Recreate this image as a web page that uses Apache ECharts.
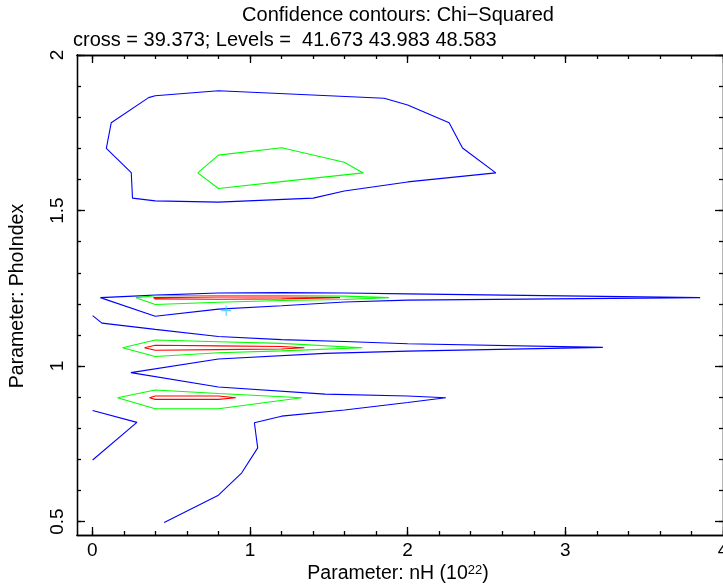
<!DOCTYPE html>
<html><head><meta charset="utf-8">
<script src="https://cdn.jsdelivr.net/npm/echarts@6/dist/echarts.min.js"></script>
<style>html,body{margin:0;padding:0;background:#fff}#c{width:723px;height:588px}</style>
</head><body><div id="c"></div>
<script>
const titleText = 'Confidence contours: Chi\u2212Squared';
const subtitleText = 'cross = 39.373; Levels =  41.673 43.983 48.583';
const xTitleMain = 'Parameter: nH (10';
const xTitleSup = '22';
const yTitle = 'Parameter: PhoIndex';
const xMajorTicks = [0, 1, 2, 3, 4];
const xMinorTicks = [0, 0.2, 0.4, 0.6, 0.8, 1, 1.2, 1.4, 1.6, 1.8, 2, 2.2, 2.4, 2.6, 2.8, 3, 3.2, 3.4, 3.6, 3.8, 4];
const yMajorTicks = [0.5, 1, 1.5, 2];
const yMinorTicks = [0.5, 0.6, 0.7, 0.8, 0.9, 1, 1.1, 1.2, 1.3, 1.4, 1.5, 1.6, 1.7, 1.8, 1.9, 2];
const bestFit = [[0.849, 1.178]];

// level 3 (48.583) - blue
const blueTop = [[0.357,1.863],[0.399,1.869],[0.800,1.885],[1.851,1.861],[2.000,1.839],[2.263,1.782],[2.348,1.701],[2.559,1.621],[2.000,1.592],[1.598,1.563],[1.401,1.540],[0.800,1.527],[0.399,1.531],[0.255,1.540],[0.247,1.622],[0.089,1.700],[0.120,1.782],[0.357,1.863]];
const blueBand1 = [[0.051,1.220],[0.399,1.228],[0.800,1.235],[1.200,1.236],[1.600,1.235],[2.000,1.232],[3.855,1.220],[2.000,1.212],[1.600,1.206],[1.201,1.194],[0.800,1.183],[0.399,1.160],[0.051,1.220]];
const blueLong = [[0.002,1.162],[0.061,1.138],[0.399,1.118],[0.800,1.095],[1.200,1.085],[1.600,1.079],[2.000,1.072],[3.238,1.060],[2.000,1.048],[1.476,1.041],[0.800,1.023],[0.245,0.979],[0.800,0.933],[1.476,0.910],[2.000,0.904],[2.242,0.898],[2.000,0.883],[1.600,0.859],[1.200,0.839],[1.028,0.818],[1.049,0.737],[0.948,0.657],[0.800,0.585],[0.456,0.497]];
const blueLeftLow = [[0.002,0.857],[0.283,0.819],[0.002,0.698]];
// level 2 (43.983) - green
const greenTop = [[0.669,1.621],[0.800,1.678],[1.201,1.702],[1.598,1.655],[1.718,1.621],[1.200,1.593],[0.800,1.571],[0.669,1.621]];
const greenBand1 = [[0.277,1.220],[0.399,1.226],[0.800,1.227],[1.200,1.227],[1.600,1.225],[1.881,1.220],[1.600,1.214],[1.201,1.211],[0.800,1.205],[0.399,1.198],[0.277,1.220]];
const greenBand2 = [[0.192,1.059],[0.399,1.084],[0.800,1.078],[1.200,1.073],[1.712,1.059],[1.200,1.049],[0.800,1.043],[0.399,1.031],[0.192,1.059]];
const greenBand3 = [[0.160,0.898],[0.399,0.923],[0.800,0.912],[1.328,0.898],[0.800,0.863],[0.399,0.863],[0.160,0.898]];
// level 1 (41.673) - red
const redBand1 = [[0.388,1.220],[0.399,1.222],[0.800,1.222],[1.200,1.222],[1.571,1.220],[1.200,1.216],[0.800,1.215],[0.399,1.216],[0.388,1.220]];
const redBand2 = [[0.331,1.059],[0.399,1.067],[0.800,1.065],[1.200,1.063],[1.345,1.059],[1.200,1.055],[0.800,1.053],[0.399,1.051],[0.331,1.059]];
const redBand3 = [[0.363,0.898],[0.399,0.904],[0.800,0.904],[0.910,0.898],[0.800,0.893],[0.399,0.893],[0.363,0.898]];

const X_MIN = -0.097, X_MAX = 4.0, Y_MIN = 0.457, Y_MAX = 2.0;
const FONT = '"Liberation Sans", Arial, Helvetica, sans-serif';

function xAx(pos, ticks, len, labels) {
  return {
    type: 'value', position: pos, min: X_MIN, max: X_MAX, offset: 0,
    axisLine: { show: true, onZero: false, lineStyle: { color: '#000', width: 1.3 } },
    axisTick: { show: true, inside: true, length: len, customValues: ticks, lineStyle: { color: '#000', width: 1.3 } },
    axisLabel: labels ? { show: true, customValues: xMajorTicks, color: '#000', fontSize: 19, fontFamily: FONT, margin: 6,
      alignMinLabel: 'center', alignMaxLabel: 'center', hideOverlap: false, formatter: v => String(v) } : { show: false },
    splitLine: { show: false }
  };
}
function yAx(pos, ticks, len, labels) {
  return {
    type: 'value', position: pos, min: Y_MIN, max: Y_MAX, offset: 0,
    axisLine: { show: true, onZero: false, lineStyle: { color: '#000', width: 1.3 } },
    axisTick: { show: true, inside: true, length: len, customValues: ticks, lineStyle: { color: '#000', width: 1.3 } },
    axisLabel: labels ? { show: true, customValues: yMajorTicks, rotate: 90, color: '#000', fontSize: 19, fontFamily: FONT, margin: 10,
      alignMinLabel: 'center', alignMaxLabel: 'center', formatter: v => String(v) } : { show: false },
    splitLine: { show: false }
  };
}
function line(data, color) {
  return { type: 'line', data: data, xAxisIndex: 0, yAxisIndex: 0, showSymbol: false, symbol: 'none', smooth: false,
    lineStyle: { color: color, width: 1.1 }, silent: true, animation: false, z: 3 };
}

const chart = echarts.init(document.getElementById('c'), null, { renderer: 'canvas' });
chart.setOption({
  backgroundColor: '#fff',
  animation: false,
  grid: { left: 77, right: 0, top: 55, bottom: 53, containLabel: false, outerBoundsMode: 'none' },
  xAxis: [xAx('bottom', xMajorTicks, 8, true), xAx('bottom', xMinorTicks, 4, false), xAx('top', xMajorTicks, 8, false), xAx('top', xMinorTicks, 4, false)],
  yAxis: [yAx('left', yMajorTicks, 8, true), yAx('left', yMinorTicks, 4, false), yAx('right', yMajorTicks, 8, false), yAx('right', yMinorTicks, 4, false)],
  graphic: [
    { type: 'text', x: 398, y: 15, style: { text: titleText, font: '20px ' + FONT, fill: '#000', textAlign: 'center', textVerticalAlign: 'middle' } },
    { type: 'text', x: 73, y: 40, style: { text: subtitleText, font: '20px ' + FONT, fill: '#000', textAlign: 'left', textVerticalAlign: 'middle' } },
    { type: 'text', x: 398, y: 574, style: { text: '{a|' + xTitleMain + '}{s|' + xTitleSup + '}{a|)}', textAlign: 'center', textVerticalAlign: 'middle',
        rich: { a: { fontSize: 19.5, fontFamily: FONT, color: '#000' }, s: { fontSize: 13, fontFamily: FONT, color: '#000', verticalAlign: 'top', padding: [0,0,8,0] } } } },
    { type: 'text', x: 18, y: 296, rotation: Math.PI / 2, style: { text: yTitle, font: '19.5px ' + FONT, fill: '#000', textAlign: 'center', textVerticalAlign: 'middle' } }
  ],
  series: [
    line(blueTop, '#0000ff'), line(blueBand1, '#0000ff'), line(blueLong, '#0000ff'), line(blueLeftLow, '#0000ff'),
    line(greenTop, '#00ff00'), line(greenBand1, '#00ff00'), line(greenBand2, '#00ff00'), line(greenBand3, '#00ff00'),
    line(redBand1, '#ff0000'), line(redBand2, '#ff0000'), line(redBand3, '#ff0000'),
    { type: 'scatter', data: bestFit, xAxisIndex: 0, yAxisIndex: 0, symbol: 'path://M4.4,0h1.2v10h-1.2zM0,4.4h10v1.2h-10z', symbolSize: 10,
      itemStyle: { color: '#33ccff' }, silent: true, z: 4 }
  ]
});
</script></body></html>
